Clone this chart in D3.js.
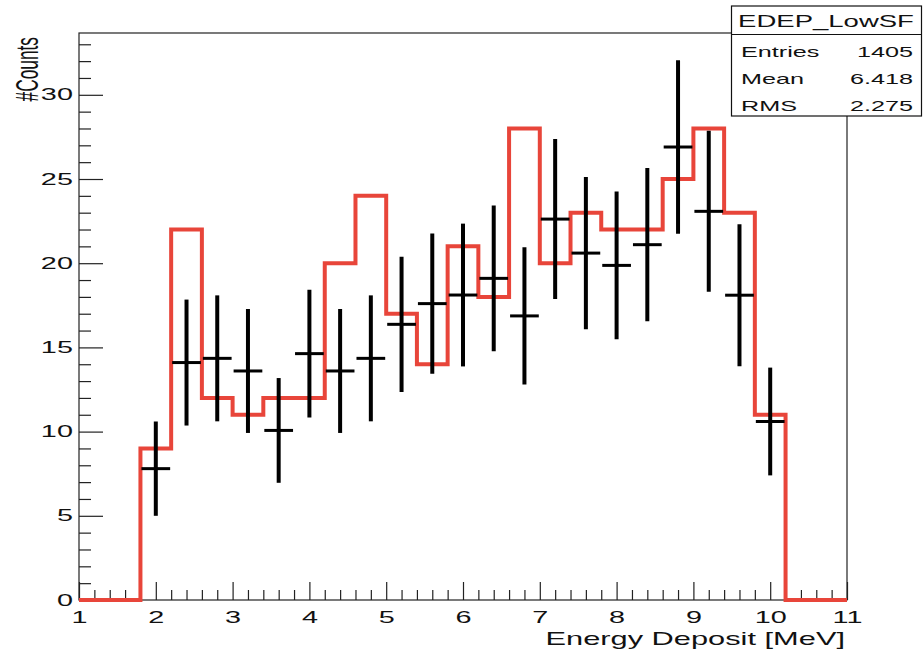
<!DOCTYPE html>
<html>
<head>
<meta charset="utf-8">
<script src="https://cdn.jsdelivr.net/npm/d3@7"></script>
<style>
  html,body{margin:0;padding:0;background:#fff;}
  svg{display:block;}
</style>
</head>
<body>
<svg id="chart" width="923" height="650"></svg>
<script>
// ---------- data ----------
const binCenters = [1.2,1.6,2.0,2.4,2.8,3.2,3.6,4.0,4.4,4.8,5.2,5.6,6.0,6.4,6.8,7.2,7.6,8.0,8.4,8.8,9.2,9.6,10.0,10.4,10.8];
const binWidth = 0.4;
const mcCounts = [0,0,9,22,12,11,12,12,20,24,17,14,21,18,28,20,23,22,22,25,28,23,11,0,0];
const dataCounts = [null,null,7.8,14.1,14.35,13.6,10.07,14.63,13.6,14.35,16.37,17.6,18.11,19.1,16.87,22.62,20.6,19.87,21.1,26.9,23.08,18.1,10.6,null,null];
const dataErrors = [null,null,2.8,3.74,3.74,3.68,3.11,3.8,3.68,3.74,4.02,4.17,4.24,4.33,4.07,4.75,4.52,4.39,4.55,5.15,4.78,4.22,3.2,null,null];
const xMajorTicks = [1,2,3,4,5,6,7,8,9,10,11];
const yMajorTicks = [0,5,10,15,20,25,30];
const statsTitle = "EDEP_LowSF";
const statsLabels = ["Entries","Mean","RMS"];
const statsValues = ["1405","6.418","2.275"];
const xTitle = "Energy Deposit [MeV]";
const yTitle = "#Counts";

// ---------- layout ----------
const svg = d3.select("#chart");
const FONT = "'Liberation Sans', Arial, Helvetica, sans-serif";
const K = 1.8; // horizontal glyph stretch of the reference
const x = d3.scaleLinear().domain([1, 11]).range([79, 847]);
const y = d3.scaleLinear().domain([0, 33.67]).range([600, 33]);

// frame
svg.append("rect")
  .attr("x", x(1)).attr("y", y(33.67))
  .attr("width", x(11) - x(1)).attr("height", y(0) - y(33.67))
  .attr("fill", "none").attr("stroke", "#222").attr("stroke-width", 1.2);

// x axis
const xMinor = d3.range(1, 11.001, 0.2).map(v => +v.toFixed(1)).filter(v => Math.abs(v - Math.round(v)) > 1e-6);
const gxMinor = svg.append("g").attr("transform", `translate(0,${y(0)})`)
  .call(d3.axisBottom(x).tickValues(xMinor).tickSize(-10).tickFormat(""));
const gx = svg.append("g").attr("transform", `translate(0,${y(0)})`)
  .call(d3.axisBottom(x).tickValues(xMajorTicks).tickSize(-18).tickPadding(12).tickFormat(d3.format("d")));

// y axis
const yMinor = d3.range(1, 34, 1).filter(v => v % 5 !== 0);
const gyMinor = svg.append("g").attr("transform", `translate(${x(1)},0)`)
  .call(d3.axisLeft(y).tickValues(yMinor).tickSize(-12).tickFormat(""));
const gy = svg.append("g").attr("transform", `translate(${x(1)},0)`)
  .call(d3.axisLeft(y).tickValues(yMajorTicks).tickSize(-24).tickPadding(3.4).tickFormat(d3.format("d")));

[gxMinor, gx, gyMinor, gy].forEach(g => {
  g.select(".domain").remove();
  g.selectAll("line").attr("stroke", "#222").attr("stroke-width", 1.2);
  g.selectAll("text")
    .attr("font-family", FONT).attr("font-size", 16).attr("fill", "#111")
    .attr("transform", `scale(${K},1)`);
});

// MC histogram (red step line)
const stepPts = [];
binCenters.forEach((c, i) => {
  stepPts.push([x(c - binWidth / 2), y(mcCounts[i])]);
  stepPts.push([x(c + binWidth / 2), y(mcCounts[i])]);
});
svg.append("path")
  .attr("d", d3.line()(stepPts))
  .attr("fill", "none")
  .attr("stroke", "#e8453a")
  .attr("stroke-width", 4)
  .attr("stroke-linejoin", "miter");

// data points with error bars
const pts = binCenters.map((c, i) => ({c, v: dataCounts[i], e: dataErrors[i]})).filter(d => d.v !== null);
const gp = svg.append("g");
gp.selectAll("line.vbar").data(pts).join("line")
  .attr("class", "vbar")
  .attr("x1", d => x(d.c)).attr("x2", d => x(d.c))
  .attr("y1", d => y(d.v - d.e)).attr("y2", d => y(d.v + d.e))
  .attr("stroke", "#000").attr("stroke-width", 4);
gp.selectAll("line.hbar").data(pts).join("line")
  .attr("class", "hbar")
  .attr("x1", d => x(d.c - binWidth / 2) + 1).attr("x2", d => x(d.c + binWidth / 2) - 1)
  .attr("y1", d => y(d.v)).attr("y2", d => y(d.v))
  .attr("stroke", "#000").attr("stroke-width", 3);

// axis titles
svg.append("text")
  .attr("transform", `translate(845,645) scale(1.75,1)`)
  .attr("text-anchor", "end")
  .attr("font-family", FONT).attr("font-size", 17.6).attr("fill", "#111")
  .text(xTitle);
svg.append("text")
  .attr("transform", `translate(38,37) scale(${K},1) rotate(-90)`)
  .attr("text-anchor", "end")
  .attr("font-family", FONT).attr("font-size", 17.3).attr("fill", "#111")
  .text(yTitle);

// stats box
const box = svg.append("g");
box.append("rect")
  .attr("x", 731.5).attr("y", 6).attr("width", 190).attr("height", 110)
  .attr("fill", "#fff").attr("stroke", "#111").attr("stroke-width", 1.2);
box.append("line")
  .attr("x1", 731.5).attr("x2", 921.5).attr("y1", 34.5).attr("y2", 34.5)
  .attr("stroke", "#111").attr("stroke-width", 1.2);
box.append("text")
  .attr("transform", `translate(826,27) scale(1.72,1)`)
  .attr("text-anchor", "middle")
  .attr("font-family", FONT).attr("font-size", 16).attr("fill", "#111")
  .text(statsTitle);
statsLabels.forEach((lab, i) => {
  const by = 57 + i * 26.8;
  box.append("text")
    .attr("transform", `translate(741,${by}) scale(${K},1)`)
    .attr("font-family", FONT).attr("font-size", 14).attr("fill", "#111")
    .text(lab);
  box.append("text")
    .attr("transform", `translate(913,${by}) scale(${K},1)`)
    .attr("text-anchor", "end")
    .attr("font-family", FONT).attr("font-size", 14).attr("fill", "#111")
    .text(statsValues[i]);
});
</script>
</body>
</html>
